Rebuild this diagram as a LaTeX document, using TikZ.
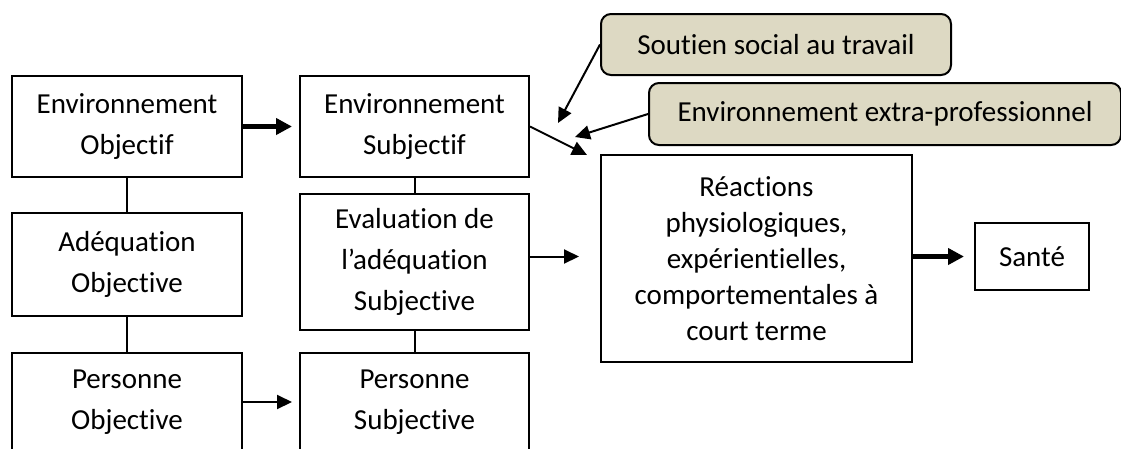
\documentclass[tikz,border=0pt]{standalone}
\usepackage{fontspec}
\setmainfont{Carlito}[Ligatures=NoCommon]
\usetikzlibrary{arrows.meta}
\definecolor{tanfill}{RGB}{221,217,195}

\begin{document}
\begin{tikzpicture}[x=1pt,y=1pt]
\tikzstyle{every node}+=[inner sep=0pt]
\tikzstyle{box}=[draw=black, line width=2pt, align=center, font=\fontsize{29pt}{41pt}\selectfont]
\tikzstyle{tanbox}=[box, fill=tanfill, rounded corners=10pt]
\tikzstyle{link}=[black, line width=2pt]
\tikzstyle{arr}=[black, line width=2pt, -{Triangle[length=15pt,width=14pt]}]
\tikzstyle{boldarr}=[black, line width=4.5pt, -{Triangle[length=16pt,width=16pt]}]
\clip (0,0) rectangle (1121,-448);
\node [box, minimum width=230pt, minimum height=101pt] (eo) at (127,-126.5) {Environnement\\Objectif};
\node [box, minimum width=230pt, minimum height=103pt] (ao) at (127,-264.5) {Adéquation\\Objective};
\node [box, minimum width=230pt, minimum height=98pt] (po) at (127,-402) {Personne\\Objective};
\node [box, minimum width=229pt, minimum height=101pt] (es) at (414.5,-126.5) {Environnement\\Subjectif};
\node [box, minimum width=229pt, minimum height=136pt] (ev) at (414.5,-262) {Evaluation de\\l’adéquation\\Subjective};
\node [box, minimum width=229pt, minimum height=98pt] (ps) at (414.5,-402) {Personne\\Subjective};
\node [box, minimum width=311pt, minimum height=207pt, font=\fontsize{29pt}{36pt}\selectfont] (re) at (756.5,-258.5) {Réactions\\physiologiques,\\expérientielles,\\comportementales à\\court terme};
\node [box, minimum width=114pt, minimum height=67pt] (sa) at (1032,-256.5) {Santé};
\node [tanbox, minimum width=350pt, minimum height=61pt] (so) at (776,-44.5) {Soutien social au travail};
\node [tanbox, minimum width=472pt, minimum height=62pt] (ex) at (885,-114) {Environnement extra-professionnel};
\coordinate (p1) at (587,-155);
\coordinate (p2) at (558,-123);
\coordinate (p3) at (575,-137);
\draw [link] (eo) -- (ao);
\draw [link] (ao) -- (po);
\draw [link] (es) -- (ev);
\draw [link] (ev) -- (ps);
\draw [boldarr, shorten >=7pt] (eo.east) -- (es.west);
\draw [arr, shorten >=7pt] (po.east) -- (ps.west);
\draw [arr, shorten >=21pt] (ev.east |- sa.west) -- (re.west |- sa.west);
\draw [boldarr, shorten >=10pt] (re.east |- sa.west) -- (sa.west);
\draw [arr] (es.east) -- (p1);
\draw [arr] (so.west) -- (p2);
\draw [arr] (ex.west) -- (p3);
\end{tikzpicture}
\end{document}
